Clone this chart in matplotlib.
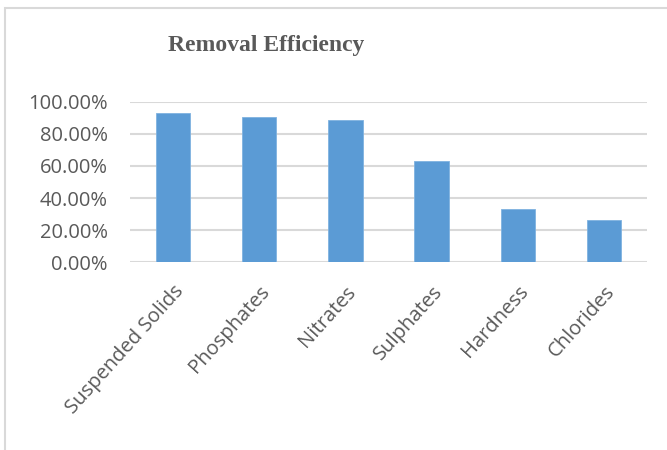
import matplotlib.pyplot as plt
from matplotlib.patches import Rectangle
from matplotlib.ticker import PercentFormatter

# data
categories = ['Suspended Solids', 'Phosphates', 'Nitrates', 'Sulphates', 'Hardness', 'Chlorides']
removal = [92.8, 90.3, 88.6, 63.1, 33.2, 26.2]
yticks = [0, 20, 40, 60, 80, 100]

text_color = '#595959'
grid_color = '#d9d9d9'
bar_color = '#5b9bd5'

fig = plt.figure(figsize=(6.67, 4.5), dpi=100)
ax = fig.add_axes([130 / 667, 1 - 262.3 / 450, 517 / 667, 160.6 / 450])

# chart frame (only left and top edges show in the crop)
fig.patches.append(Rectangle((5 / 667, -0.1), 1.2, (1 - 8 / 450) + 0.1,
                             transform=fig.transFigure, fill=False,
                             edgecolor=grid_color, linewidth=1.5))

x = range(len(categories))
ax.bar(x, removal, width=0.4, color=bar_color, edgecolor='#7fb2e0', linewidth=0.6, zorder=3)

ax.set_xlim(-0.5, len(categories) - 0.5)
ax.set_ylim(0, 100)
ax.set_yticks(yticks)
ax.yaxis.set_major_formatter(PercentFormatter(decimals=2))
ax.grid(axis='y', color=grid_color, linewidth=1.5, zorder=0)
for s in ax.spines.values():
    s.set_visible(False)
ax.tick_params(length=0)
ax.tick_params(axis='y', pad=16, labelsize=14.5, labelcolor=text_color)
ax.set_xticks(list(x))
ax.set_xticklabels(categories, rotation=48, ha='right', rotation_mode='anchor',
                   fontsize=14.5, color=text_color)
ax.tick_params(axis='x', pad=14)
for lab in ax.get_xticklabels() + ax.get_yticklabels():
    lab.set_family('Open Sans')

fig.text(266 / 667, 1 - 51 / 450, 'Removal Efficiency', ha='center', va='baseline',
         fontsize=17, fontweight='bold', family='Liberation Serif', color=text_color)

fig.savefig('out.png', dpi=100)
